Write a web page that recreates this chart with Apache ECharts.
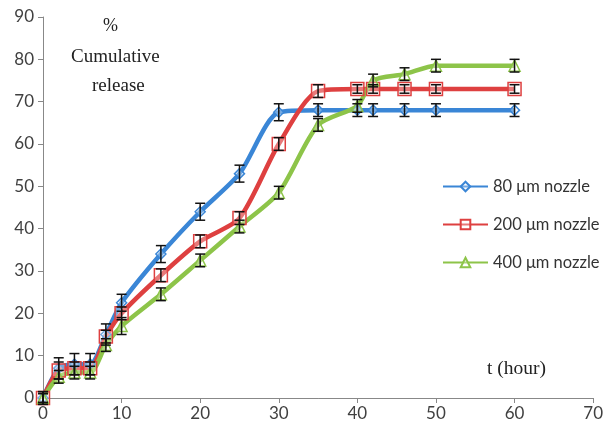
<!DOCTYPE html>
<html>
<head>
<meta charset="utf-8">
<script src="https://cdn.jsdelivr.net/npm/echarts@6/dist/echarts.min.js"></script>
<style>
  html, body { margin: 0; padding: 0; background: #fff; }
  #chart1 { width: 606px; height: 427px; }
</style>
</head>
<body>
<div id="chart1"></div>
<script>
var hours = [0, 2, 4, 6, 8, 10, 15, 20, 25, 30, 35, 40, 42, 46, 50, 60];
var names = ['80 μm nozzle', '200 μm nozzle', '400 μm nozzle'];
var nozzle80 = [0, 7, 8, 8, 15, 22.5, 34, 44, 53, 67.5, 68, 68, 68, 68, 68, 68];
var nozzle200 = [0, 6.5, 7, 7, 14.5, 20, 29, 37, 42.5, 60, 72.5, 73, 73, 73, 73, 73];
var nozzle400 = [0, 5, 6, 6, 12.5, 17, 24.5, 32.5, 40.5, 48.5, 64.5, 69, 75, 76.5, 78.5, 78.5];
var err80 = [1.5, 2.5, 2.5, 2.5, 2.5, 2, 2, 2, 2, 2, 1.5, 1.5, 1.5, 1.5, 1.5, 1.5];
var err200 = [1.5, 2, 1.5, 1.5, 1.5, 1.5, 1.5, 1.5, 1.5, 1.5, 1.5, 1, 1, 1, 1, 1];
var err400 = [1, 1.5, 1.5, 1.5, 1.5, 2, 1.5, 1.5, 1.5, 1.5, 1.5, 1.5, 1.5, 1.5, 1.5, 1.5];
var xTicks = [0, 10, 20, 30, 40, 50, 60, 70];
var yTicks = [0, 10, 20, 30, 40, 50, 60, 70, 80, 90];

var colors = ['#3a86d6', '#de4040', '#8dc449'];
var symbols = ['diamond', 'rect', 'triangle'];
var symbolSizes = [10, 13, 11];

function pairs(vals) {
	return hours.map(function (h, i) { return [h, vals[i]]; });
}
function errData(vals, errs) {
	return hours.map(function (h, i) { return [h, vals[i] - errs[i], vals[i] + errs[i]]; });
}
function renderErr(params, api) {
	var lo = api.coord([api.value(0), api.value(1)]);
	var hi = api.coord([api.value(0), api.value(2)]);
	var w = 5;
	var st = { stroke: '#111', lineWidth: 1.5 };
	return {
		type: 'group',
		children: [
			{ type: 'line', shape: { x1: lo[0], y1: lo[1], x2: hi[0], y2: hi[1] }, style: st },
			{ type: 'line', shape: { x1: lo[0] - w, y1: lo[1], x2: lo[0] + w, y2: lo[1] }, style: st },
			{ type: 'line', shape: { x1: hi[0] - w, y1: hi[1], x2: hi[0] + w, y2: hi[1] }, style: st }
		]
	};
}

var lineVals = [nozzle80, nozzle200, nozzle400];
var errVals = [err80, err200, err400];
var series = [];
lineVals.forEach(function (v, i) {
	series.push({
		name: names[i],
		type: 'line',
		data: pairs(v),
		smooth: 0.25,
		symbol: symbols[i],
		symbolSize: symbolSizes[i],
		showAllSymbol: true,
		lineStyle: { color: colors[i], width: 4.5 },
		itemStyle: { color: 'rgba(255,255,255,0.3)', borderColor: colors[i], borderWidth: 1.5 },
		z: 2
	});
});
errVals.forEach(function (e, i) {
	series.push({
		type: 'custom',
		data: errData(lineVals[i], e),
		renderItem: renderErr,
		encode: { x: 0, y: [1, 2] },
		silent: true,
		z: 5
	});
});

var option = {
	animation: false,
	color: colors,
	grid: { left: 43, right: 12, top: 17, bottom: 29, containLabel: false },
	legend: {
		orient: 'vertical',
		left: 437,
		top: 173,
		itemWidth: 45,
		itemHeight: 12,
		itemGap: 21,
		data: names,
		textStyle: { fontFamily: 'Lato', fontSize: 16.5, color: '#333' }
	},
	xAxis: {
		type: 'value',
		min: 0,
		max: 70,
		interval: 10,
		splitLine: { show: false },
		axisLine: { lineStyle: { color: '#888', width: 1 } },
		axisTick: { show: true, length: 5, lineStyle: { color: '#888' } },
		axisLabel: {
			margin: 7,
			fontFamily: 'Lato', fontSize: 17, color: '#404040',
			formatter: function (v) { return xTicks.indexOf(v) >= 0 ? String(v) : ''; }
		}
	},
	yAxis: {
		type: 'value',
		min: 0,
		max: 90,
		interval: 10,
		splitLine: { show: false },
		axisLine: { show: true, lineStyle: { color: '#888', width: 1 } },
		axisTick: { show: true, length: 5, lineStyle: { color: '#888' } },
		axisLabel: {
			margin: 9,
			fontFamily: 'Lato', fontSize: 17, color: '#404040',
			formatter: function (v) { return yTicks.indexOf(v) >= 0 ? String(v) : ''; }
		}
	},
	graphic: [
		{ type: 'text', left: 103, top: 17, style: { text: '%', font: '18px "Liberation Serif"', fill: '#222' } },
		{ type: 'text', left: 71, top: 48, style: { text: 'Cumulative', font: '19px "Liberation Serif"', fill: '#222' } },
		{ type: 'text', left: 92, top: 77, style: { text: 'release', font: '19px "Liberation Serif"', fill: '#222' } },
		{ type: 'text', left: 487, top: 359, style: { text: 't (hour)', font: '19.5px "Liberation Serif"', fill: '#222' } }
	],
	series: series
};
var chart1 = echarts.init(document.getElementById('chart1'));
chart1.setOption(option);
</script>
</body>
</html>
